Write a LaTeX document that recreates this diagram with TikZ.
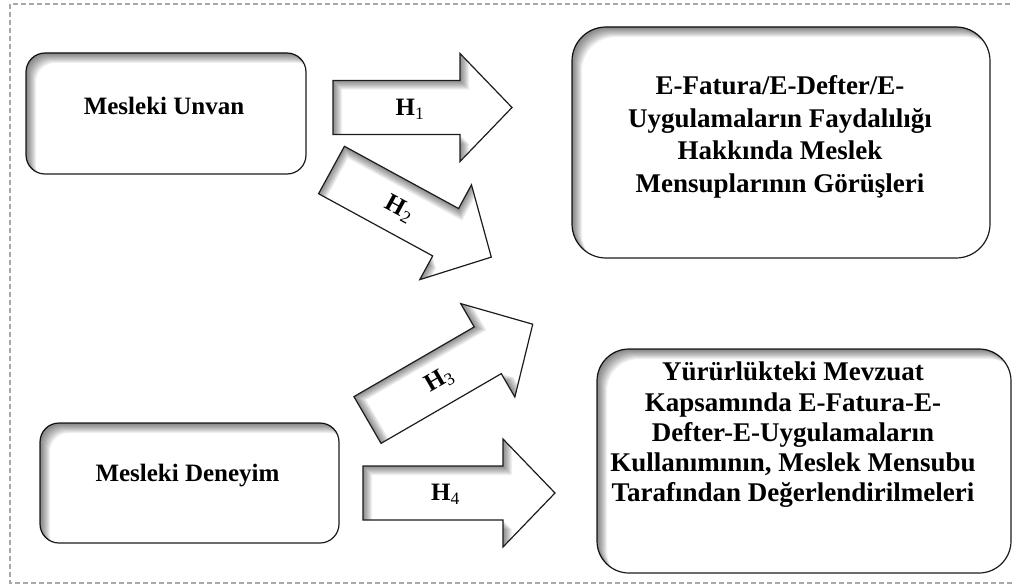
\documentclass[tikz,border=0pt]{standalone}
\usepackage{fontspec}
\setmainfont{Liberation Serif}
\definecolor{ink}{HTML}{1C1C1C}
\definecolor{dashgray}{HTML}{A8A8A8}

\newcommand\hsub[1]{{\mdseries\textsubscript{#1}}}
% inner shadow of a rounded box: node name, corner radius
\newcommand\boxshade[2]{%
  \begin{scope}
    \clip[rounded corners=#2] (#1.north west) rectangle (#1.south east);
    \foreach \d in {1,...,10}
      \fill[innershadow,even odd rule,rounded corners=#2] ([shift={(-30,-30)}]#1.north west) rectangle ([shift={(30,30)}]#1.south east) ([shift={(\d,\d)}]#1.north west) rectangle ([shift={(\d,\d)}]#1.south east);
  \end{scope}}

\begin{document}
\begin{tikzpicture}[x=1pt,y=-1pt,
  box/.style={draw=ink,line width=1.2pt,fill=white,outer sep=0pt},
  txt/.style={align=center,inner sep=0pt,font=\bfseries\fontsize{27}{32.5}\selectfont},
  tight/.style={font=\bfseries\fontsize{27}{30.3}\selectfont},
  small/.style={font=\bfseries\fontsize{25}{31}\selectfont},
  innershadow/.style={black,opacity=.06},
  arrowline/.style 2 args={insert path={(#2,{#2-27}) -- ({#1-52+#2},{#2-27}) -- ({#1-52+#2},{#2-54}) -- ({#1+#2},#2) -- ({#1-52+#2},{#2+54}) -- ({#1-52+#2},{#2+27}) -- (#2,{#2+27}) -- cycle}},
  pics/blockarrow/.style args={#1/#2}{code={
    \fill[white,arrowline={#1}{0}];
    \begin{scope}
      \clip[arrowline={#1}{0}];
      \foreach \d in {1,...,9}
        \fill[innershadow,even odd rule] (-30,-80) rectangle ({#1+30},80) [arrowline={#1}{\d}];
    \end{scope}
    \draw[draw=ink,line width=1.2pt,arrowline={#1}{0}];
    \node[txt,small,transform shape] (-lbl) at ({0.43*#1},1.5) {#2};
  }}]
\useasboundingbox (0,0) rectangle (1012,586);
\clip (0,0) rectangle (1012,586);
\draw[dashgray,line width=1.2pt,dash pattern=on 5pt off 3pt] (1100,583) -- (10,583) -- (10,4) -- (1100,4);

% boxes
\node[box,rounded corners=19pt,minimum width=280pt,minimum height=121pt] (unvan) at (166,113.5) {};
\boxshade{unvan}{19pt}
\node[txt,small] (unvantxt) at (164,106) {Mesleki Unvan};

\node[box,rounded corners=19pt,minimum width=299pt,minimum height=120pt] (deneyim) at (189.5,483) {};
\boxshade{deneyim}{19pt}
\node[txt,small] (deneyimtxt) at (187.5,476) {Mesleki Deneyim};

\node[box,rounded corners=34pt,minimum width=418pt,minimum height=231pt] (fayda) at (781,142.5) {};
\boxshade{fayda}{34pt}
\node[txt] (faydatxt) at (780,137) {E-Fatura/E-Defter/E-\\Uygulamaların Faydalılığı\\Hakkında Meslek\\Mensuplarının Görüşleri};

\node[box,rounded corners=32pt,minimum width=414pt,minimum height=224pt] (mevzuat) at (804,461) {};
\boxshade{mevzuat}{32pt}
\node[txt,tight] (mevzuattxt) at (793,435) {Yürürlükteki Mevzuat\\Kapsamında E-Fatura-E-\\Defter-E-Uygulamaların\\Kullanımının, Meslek Mensubu\\Tarafından Değerlendirilmeleri};

% hypothesis arrows
\pic (h1) at (333,107.5) {blockarrow=179/{H\hsub{1}}};
\pic[rotate=-28.6] (h2) at (331.5,170) {blockarrow=182/{H\hsub{2}}};
\pic[rotate=30.1] (h3) at (367.5,420) {blockarrow=191/{H\hsub{3}}};
\pic (h4) at (363,493) {blockarrow=192/{H\hsub{4}}};
\end{tikzpicture}
\end{document}
